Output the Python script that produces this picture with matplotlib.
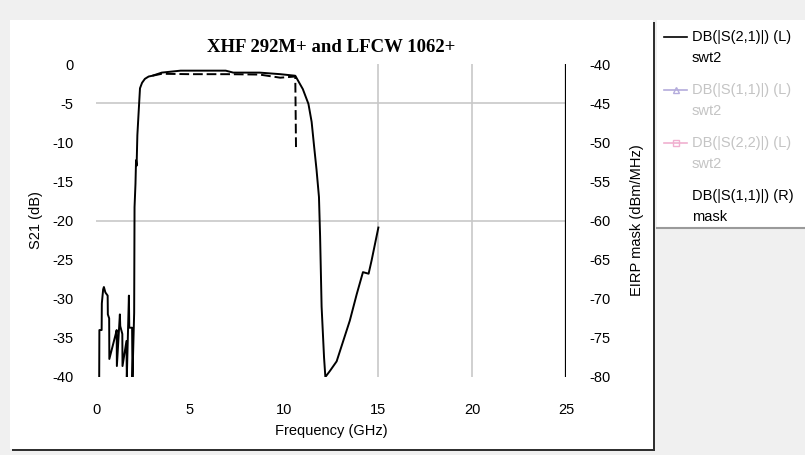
import matplotlib
matplotlib.use("Agg")
import matplotlib.pyplot as plt
from matplotlib.patches import Rectangle
from matplotlib.lines import Line2D

# ---- data ----
title = "XHF 292M+ and LFCW 1062+"
x_ticks = [0, 5, 10, 15, 20, 25]
left_ticks = [0, -5, -10, -15, -20, -25, -30, -35, -40]
right_ticks = [-40, -45, -50, -55, -60, -65, -70, -75, -80]

# main S21 trace (GHz, dB)
s21_freq = [0.17, 0.18, 0.30, 0.31, 0.38, 0.42, 0.50, 0.62, 0.63, 0.70, 0.71, 1.05, 1.10,
            1.11, 1.27, 1.29, 1.40, 1.41, 1.62, 1.64, 1.75, 1.77, 1.92, 1.94, 2.03, 2.05,
            2.10, 2.13, 2.16, 2.20, 2.26, 2.34, 2.45, 2.60, 2.80, 3.00, 3.50, 4.50, 6.90,
            7.30, 8.70, 9.80, 10.60, 11.00, 11.30, 11.47, 11.60, 11.73, 11.86, 11.92,
            12.00, 12.13, 12.20, 12.45, 12.80, 13.15, 13.50, 13.87, 14.20, 14.50, 14.66,
            14.84, 15.02]
s21_db = [-40.0, -34.0, -34.0, -30.6, -28.8, -28.5, -29.2, -29.6, -32.0, -32.5, -37.7,
          -34.5, -34.0, -38.6, -32.0, -33.5, -34.5, -38.6, -35.4, -40.0, -29.6, -33.7,
          -33.7, -40.0, -31.8, -18.3, -15.3, -12.3, -13.0, -9.1, -6.5, -3.1, -2.4, -1.9,
          -1.6, -1.5, -1.1, -0.85, -0.85, -1.1, -1.1, -1.3, -1.5, -3.2, -5.1, -7.4,
          -10.5, -13.5, -17.0, -22.0, -31.0, -37.5, -40.0, -39.2, -38.0, -35.4, -32.8,
          -29.4, -26.6, -26.8, -25.1, -23.0, -20.9]

# second (dashed) S21 trace
s21b_freq = [3.00, 3.50, 5.00, 7.00, 8.70, 9.80, 10.60, 10.64]
s21b_db = [-1.5, -1.25, -1.3, -1.3, -1.35, -1.75, -1.6, -11.0]

# EIRP mask on the right axis (GHz, dBm/MHz)
mask_freq = [25, 25]
mask_dbm = [-40, -80]

legend_labels = [("DB(|S(2,1)|) (L)", "swt2"),
                 ("DB(|S(1,1)|) (L)", "swt2"),
                 ("DB(|S(2,2)|) (L)", "swt2"),
                 ("DB(|S(1,1)|) (R)", "mask")]

# ---- figure ----
W, H = 805, 455
fig = plt.figure(figsize=(W / 100, H / 100), dpi=100)
fig.patch.set_facecolor("#f0f0f0")
sans = ["Liberation Sans", "DejaVu Sans"]
fs = 10.5

def fx(px):
    return px / W

def fy(py):
    return 1 - py / H

# white chart panel with dark shadow
fig.patches.append(Rectangle((fx(12), fy(451)), fx(643), (449 - 20) / H,
                             transform=fig.transFigure, facecolor="#303030",
                             edgecolor="none", zorder=-10))
fig.patches.append(Rectangle((fx(10), fy(449)), fx(643), (449 - 20) / H,
                             transform=fig.transFigure, facecolor="white",
                             edgecolor="none", zorder=-9))
# legend panel
fig.patches.append(Rectangle((fx(657), fy(228)), fx(148), (228 - 20) / H,
                             transform=fig.transFigure, facecolor="white",
                             edgecolor="none", zorder=-9))
fig.lines.append(Line2D([fx(657), fx(805)], [fy(228), fy(228)], transform=fig.transFigure,
                        color="#9a9a9a", lw=1.5, zorder=-8))

ax = fig.add_axes([fx(96), fy(377), fx(566 - 96), (377 - 64) / H])
ax.set_facecolor("none")
ax.set_xlim(0, 25)
ax.set_ylim(-40, 0)
for s in ax.spines.values():
    s.set_visible(False)

for gx in [15, 20]:
    ax.axvline(gx, color="#c8c8c8", lw=1.2, zorder=0)
for gy in [-5, -20]:
    ax.axhline(gy, color="#c8c8c8", lw=1.2, zorder=0)

ax.plot(s21_freq, s21_db, color="black", lw=1.4, zorder=3)
ax.plot(s21b_freq, s21b_db, color="black", lw=1.4, ls=(0, (5, 2)), zorder=3)

ax.set_xticks(x_ticks)
ax.set_xticklabels([str(v) for v in x_ticks], fontsize=fs, family=sans)
ax.set_yticks(left_ticks)
ax.set_yticklabels([str(v) for v in left_ticks], fontsize=fs, family=sans)
ax.tick_params(length=0, pad=16)
ax.tick_params(axis="x", pad=19)
ax.set_xlabel("Frequency (GHz)", fontsize=fs, family=sans, labelpad=5)
ax.set_ylabel("S21 (dB)", fontsize=fs, family=sans, labelpad=7)
ax.set_title(title, fontsize=13.5, family=["Liberation Serif", "DejaVu Serif"],
             fontweight="bold", pad=9)

ax2 = ax.twinx()
ax2.set_ylim(-80, -40)
for s in ax2.spines.values():
    s.set_visible(False)
ax2.plot(mask_freq, mask_dbm, color="black", lw=1.6, zorder=3)
ax2.set_yticks(right_ticks)
ax2.set_yticklabels([str(v) for v in right_ticks], fontsize=fs, family=sans)
ax2.tick_params(length=0, pad=17)
ax2.set_ylabel("EIRP mask (dBm/MHz)", fontsize=fs, family=sans, labelpad=14)

# legend (manual)
entries = [
    dict(color="black", marker=None, tc="black", y=37),
    dict(color="#b4acdc", marker="^", tc="#c4c4c4", y=90),
    dict(color="#f0b0d0", marker="s", tc="#c4c4c4", y=143),
    dict(color=None, marker=None, tc="black", y=196),
]
for (l1, l2), e in zip(legend_labels, entries):
    if e["color"] is not None:
        fig.lines.append(Line2D([fx(664), fx(675.5), fx(687)], [fy(e["y"])] * 3,
                                transform=fig.transFigure, color=e["color"], lw=1.2,
                                marker=e["marker"], markevery=[1] if e["marker"] else None,
                                markersize=4, mfc="none", mec=e["color"]))
    fig.text(fx(692), fy(e["y"]), l1, fontsize=10.5, family=sans, color=e["tc"], va="center")
    fig.text(fx(692), fy(e["y"] + 21), l2, fontsize=10.5, family=sans, color=e["tc"], va="center")

fig.savefig("out.png", dpi=100, facecolor=fig.get_facecolor())
